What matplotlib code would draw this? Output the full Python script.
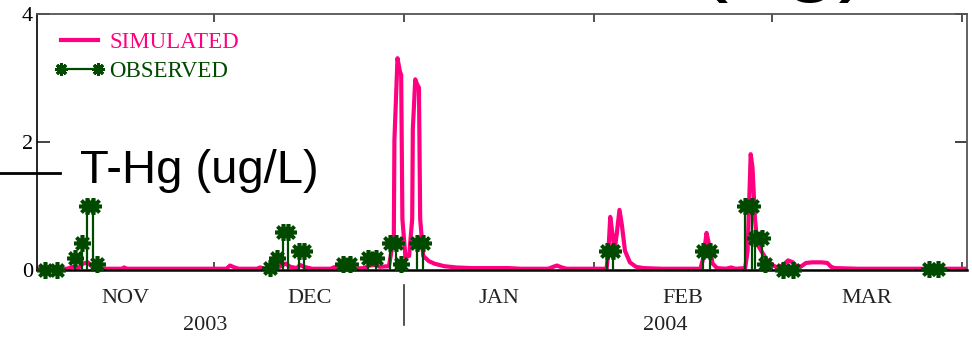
import matplotlib
matplotlib.use("Agg")
import matplotlib.pyplot as plt
from matplotlib.lines import Line2D
import matplotlib.transforms as mtransforms

# days counted from 1 Nov 2003
sim_day = [1.1, 6.0, 7.0, 7.8, 8.6, 9.4, 10.0, 10.6, 15.0, 15.3, 15.8,
           32.0, 32.6, 33.3, 34.0, 37.0, 37.5, 38.2, 40.5, 41.0, 41.7, 42.4,
           43.5, 44.0, 44.6, 45.5, 46.0, 49.0, 49.5, 50.5, 51.8, 52.5, 54.5,
           55.3, 56.3, 57.0, 58.5, 59.3, 59.4, 59.9, 60.3, 60.5, 60.7, 61.2,
           61.8, 62.3, 62.4, 62.8, 63.1, 63.4, 63.6, 64.1, 65.0, 65.9, 67.5,
           69.5, 72.0, 78.0, 80.0, 84.5, 85.3, 85.9, 86.7, 87.5, 94.0, 94.3,
           94.6, 94.9, 95.3, 95.7, 96.1, 96.5, 97.0, 97.8, 98.8, 100.0, 103.0,
           109.3, 109.8, 110.3, 110.7, 111.3, 112.0, 113.5, 114.3, 115.0,
           116.6, 117.0, 117.3, 117.5, 117.8, 118.2, 118.6, 119.4, 120.2,
           121.0, 122.0, 122.8, 123.6, 124.4, 125.0, 125.8, 126.5, 127.5,
           129.0, 130.0, 130.6, 131.2, 135.0, 145.8, 146.8, 147.8, 148.5, 152.8]
sim_val = [0.02, 0.02, 0.05, 0.03, 0.10, 0.12, 0.06, 0.02, 0.02, 0.04, 0.02,
           0.02, 0.07, 0.04, 0.02, 0.02, 0.04, 0.02, 0.04, 0.07, 0.10, 0.05,
           0.03, 0.08, 0.05, 0.03, 0.02, 0.02, 0.04, 0.06, 0.05, 0.02, 0.03,
           0.07, 0.08, 0.05, 0.06, 0.50, 2.03, 3.31, 3.10, 3.05, 0.80, 0.20,
           0.22, 0.80, 2.20, 2.98, 2.90, 2.85, 0.80, 0.22, 0.14, 0.10, 0.06,
           0.04, 0.03, 0.03, 0.02, 0.02, 0.05, 0.07, 0.04, 0.02, 0.02, 0.30,
           0.83, 0.60, 0.30, 0.60, 0.94, 0.70, 0.30, 0.12, 0.05, 0.03, 0.02,
           0.02, 0.20, 0.58, 0.40, 0.10, 0.03, 0.02, 0.04, 0.02,
           0.03, 0.30, 1.20, 1.81, 1.60, 0.80, 0.40, 0.27, 0.15,
           0.08, 0.03, 0.08, 0.15, 0.12, 0.05, 0.06, 0.11, 0.12,
           0.12, 0.11, 0.05, 0.03, 0.02, 0.02, 0.04, 0.03, 0.02, 0.02]

obs_day = [2.4, 4.4, 7.3, 8.5, 9.3, 10.3, 10.9, 39.1, 40.3, 41.3, 42.1, 43.9,
           44.7, 51.0, 52.2, 55.1, 56.4, 58.7, 59.7, 60.5, 63.1, 64.1, 94.1,
           95.1, 109.7, 110.9, 116.6, 117.7, 118.2, 119.4, 119.9, 122.8, 124.4,
           146.5, 148.1]
obs_val = [0.0, 0.0, 0.19, 0.42, 1.0, 1.0, 0.1, 0.03, 0.19, 0.6, 0.6, 0.3,
           0.3, 0.1, 0.1, 0.18, 0.18, 0.42, 0.42, 0.1, 0.42, 0.42, 0.3,
           0.3, 0.3, 0.3, 1.0, 1.0, 0.5, 0.5, 0.1, 0.0, 0.0,
           0.02, 0.02]

month_start = [30, 61, 92, 121, 152]
month_mid = [15.5, 45.5, 76.5, 106.5, 136.5]
month_lab = ["NOV", "DEC", "JAN", "FEB", "MAR"]
year_lab = ["2003", "2004"]
year_pos = [28.5, 103.5]
year_split = 61

pink = "#ff0080"
green = "#004a00"
serif = "Liberation Serif"

fig = plt.figure(figsize=(9.72, 3.39), dpi=100)
ax = fig.add_axes([0.038, 0.2035, 0.957, 0.755])

ax.plot(sim_day, sim_val, color=pink, lw=3, zorder=2)
ax.vlines(obs_day, 0, obs_val, color=green, lw=1.6, zorder=3)
ax.plot(obs_day, obs_val, ls="none", marker=(8, 2, 0), ms=12, mew=2.6,
        color=green, zorder=4, clip_on=False)

ax.set_xlim(1.1, 152.8)
ax.set_ylim(0, 4)
ax.set_xticks(month_start)
ax.set_xticklabels([])
ax.set_yticks([0, 2, 4])
ax.set_yticklabels(["0", "2", "4"], fontfamily=serif, fontsize=16)
ax.tick_params(axis="x", direction="in", top=True, bottom=True, length=6,
               width=1.2, color="#333333")
ax.tick_params(axis="y", direction="in", left=True, right=True, length=9,
               width=1.2, pad=3, color="#222222")
for s in ["top", "right"]:
    ax.spines[s].set_color("#555555")
    ax.spines[s].set_linewidth(1.3)
ax.spines["left"].set_linewidth(1.2)
ax.spines["bottom"].set_linewidth(1.8)

trans = mtransforms.blended_transform_factory(ax.transData, ax.transAxes)
for m, lab in zip(month_mid, month_lab):
    ax.text(m, -0.11, lab, transform=trans, ha="center", va="center",
            fontfamily=serif, fontsize=16, color="#222222")
for p, lab in zip(year_pos, year_lab):
    ax.text(p, -0.215, lab, transform=trans, ha="center", va="center",
            fontfamily=serif, fontsize=16, color="#222222")
ax.plot([year_split, year_split], [-0.06, -0.215], transform=trans,
        color="#333333", lw=1.2, clip_on=False)

handles = [Line2D([], [], color=pink, lw=3),
           Line2D([], [], color=green, lw=1.6, marker=(8, 2, 0), ms=9, mew=2.2)]
ax.legend(handles, ["SIMULATED", "OBSERVED"], loc="upper left",
          bbox_to_anchor=(0.019, 0.93), frameon=False, numpoints=2,
          handlelength=2.2, handletextpad=0.2, labelspacing=0.35,
          borderaxespad=0, borderpad=0, labelcolor=[pink, green],
          prop={"family": serif, "size": 16.5})

# label and leader line drawn over the plot
fig.text(80 / 972, (339 - 183) / 339, "T-Hg (ug/L)", ha="left",
         va="baseline", fontfamily="Liberation Sans", fontsize=34)
fig.add_artist(Line2D([0, 60 / 972], [(339 - 173) / 339] * 2,
                      color="black", lw=2))
# bottom of a larger caption, cut off at the top edge
fig.text(695 / 972, (339 + 18) / 339, "(ug)", ha="left", va="baseline",
         fontfamily="Liberation Sans", fontsize=72)

fig.savefig("out.png", dpi=100)
